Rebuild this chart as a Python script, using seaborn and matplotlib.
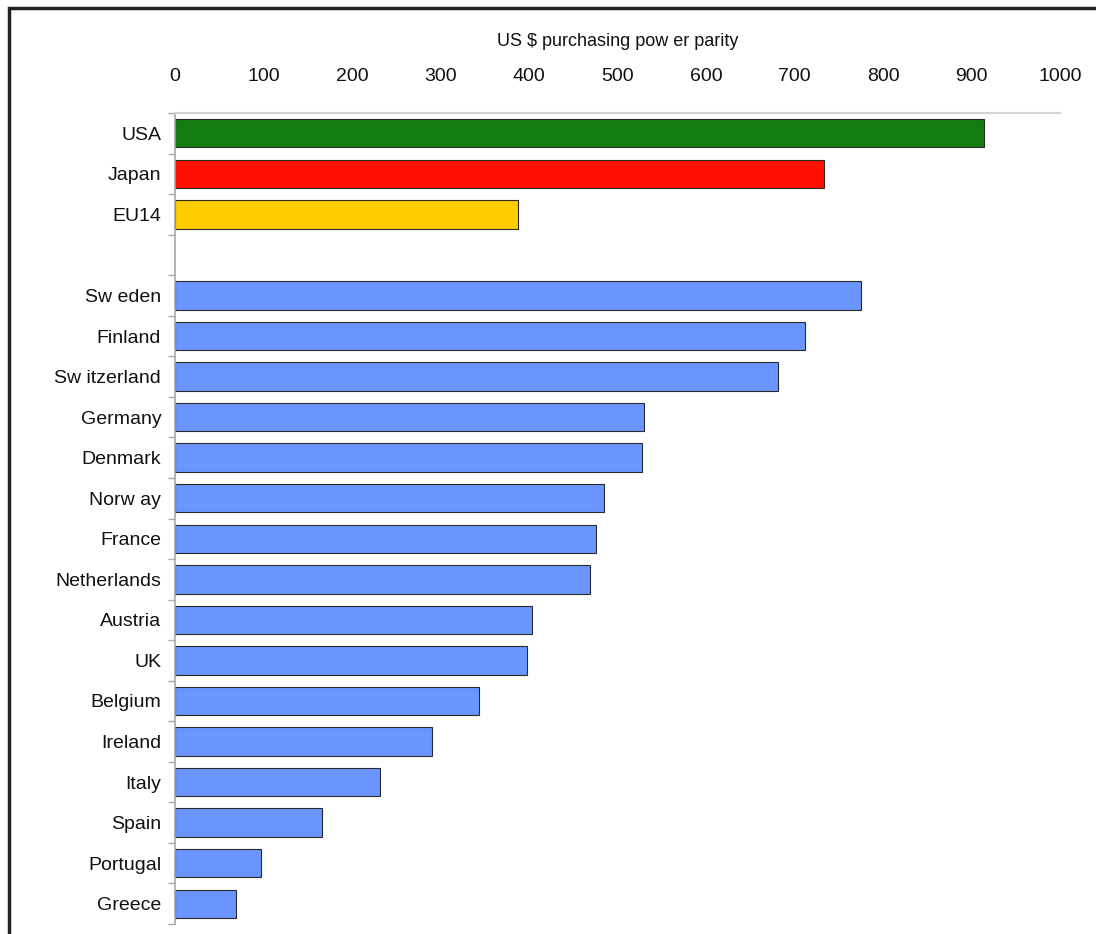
import pandas as pd
import matplotlib.pyplot as plt
import matplotlib.patches as mpatches
import seaborn as sns

# values (US $ purchasing power parity)
kraje = ['USA', 'Japan', 'EU14', ' ',
         'Sw eden', 'Finland', 'Sw itzerland', 'Germany', 'Denmark', 'Norw ay',
         'France', 'Netherlands', 'Austria', 'UK', 'Belgium', 'Ireland',
         'Italy', 'Spain', 'Portugal', 'Greece']
wartosci = [914, 733, 388, None,
            775, 712, 681, 530, 528, 485,
            476, 469, 403, 398, 343, 290,
            232, 166, 97, 69]
kolory = {'USA': '#137c10', 'Japan': '#ff1000', 'EU14': '#ffcc00'}
niebieski = '#6a95ff'
x_ticki = [0, 100, 200, 300, 400, 500, 600, 700, 800, 900, 1000]

df = pd.DataFrame({'kraj': kraje, 'wartosc': wartosci}).dropna()
paleta = {k: kolory.get(k, niebieski) for k in df['kraj']}

sns.set_theme(style="white")
plt.rcParams['font.family'] = ['Liberation Sans', 'DejaVu Sans']

fig = plt.figure(figsize=(10.96, 9.34), dpi=100)
ax = fig.add_axes([0.1597, 0.0107, 0.8075, 0.8683])

sns.barplot(data=df, x='wartosc', y='kraj', order=kraje, hue='kraj',
            palette=paleta, legend=False, width=0.7, orient='h', saturation=1,
            edgecolor='#2a2a2a', linewidth=0.8, ax=ax)

ax.set_xlim(0, 1000)
ax.set_ylim(len(kraje) - 0.5, -0.5)
ax.xaxis.tick_top()
ax.xaxis.set_label_position('top')
ax.set_xticks(x_ticki)
ax.set_xticklabels([str(v) for v in x_ticki])
ax.set_xlabel('US $ purchasing pow er parity', fontsize=13, labelpad=16, color='#111111')
ax.set_ylabel('')
ax.tick_params(axis='x', length=0, pad=20, labelsize=14, colors='#111111')
ax.tick_params(axis='y', which='major', length=0, pad=10, labelsize=14, colors='#111111')

# kreski podzialu miedzy kategoriami
ax.set_yticks([i - 0.5 for i in range(len(kraje) + 1)], minor=True)
ax.tick_params(axis='y', which='minor', length=5, width=1, color='#a8a8a8', left=True)

for s in ['right', 'bottom']:
    ax.spines[s].set_visible(False)
ax.spines['top'].set_color('#d4d4d4')
ax.spines['top'].set_linewidth(1.5)
ax.spines['left'].set_color('#a8a8a8')
ax.spines['left'].set_linewidth(1.2)

# ramka wokol wykresu
fig.patches.append(mpatches.Rectangle((0.0082, -0.1), 1.2, 0.9914 + 0.1,
                                      transform=fig.transFigure, fill=False,
                                      lw=2.5, edgecolor='#222222', clip_on=False))

fig.savefig('out.png', dpi=100)
